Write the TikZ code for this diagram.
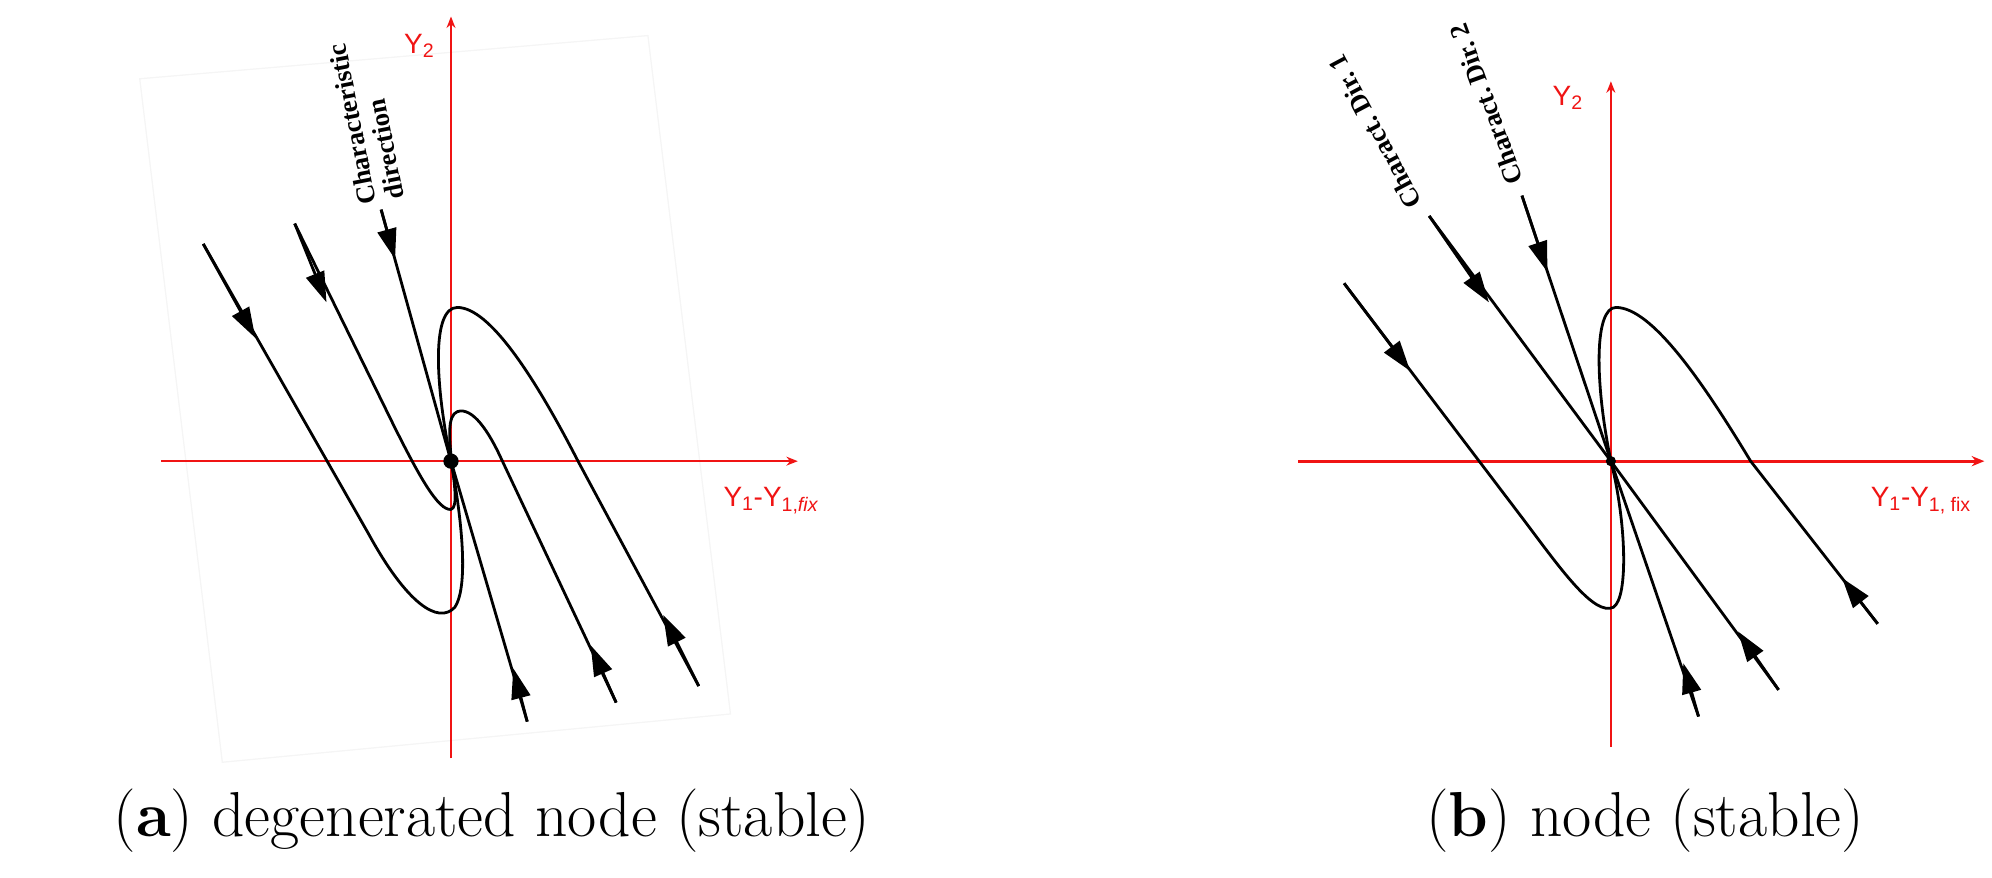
\documentclass[tikz,border=0pt]{standalone}
\usepackage{fontspec}
\newfontfamily\tms{Liberation Serif}
\newfontfamily\sns{Liberation Sans}
\usetikzlibrary{arrows.meta}
\definecolor{axred}{RGB}{240,20,20}
\begin{document}
\begin{tikzpicture}[x=1pt,y=-1pt,
  ax/.style={axred,line width=1.6pt,-{Stealth[length=9pt,width=7pt]}},
  axb/.style={axred,line width=2.6pt,-{Stealth[length=10pt,width=8pt]}},
  tr/.style={black,line width=2.2pt,line join=round},
  tip/.style={black,line width=2.2pt,-{Triangle[length=24pt,width=15pt]}},
  axlab/.style={text=axred,font=\sns\fontsize{22}{24}\selectfont},
  dirlab/.style={font=\tms\bfseries\fontsize{21}{22}\selectfont,align=left},
  captext/.style={font=\fontsize{50}{60}\selectfont}]
\useasboundingbox (0,0) rectangle (1568,691);
% faint frame (a)
\draw[black!4,line width=1pt] (110,62) -- (510,28) -- (575,562) -- (175,600) -- cycle;
% ---------- panel a ----------
\draw[ax] (127,363) -- (628,363);
\draw[ax] (355,597) -- (355,13);
\node[axlab] (ya) at (330,36) {Y\textsubscript{2}};
\node[axlab] (xa) at (607,394) {Y\textsubscript{1}-Y\textsubscript{1,\textit{fix}}};
\node[dirlab,rotate=101] (cda) at (288,96) {Characteristic\\direction};
% trajectories
\draw[tr] (160,192) -- (290,420) .. controls (320,475) and (345,492) .. (358,478) .. controls (370,460) and (362,400) .. (355,363);
\draw[tr] (232,176) -- (310,335) .. controls (330,375) and (345,402) .. (355,401) .. controls (366,398) and (344,330) .. (360,324) .. controls (372,320) and (385,340) .. (395,362) -- (485,553);
\draw[tr] (300,165) -- (355,363) -- (415,568);
\draw[tr] (550,540) -- (455,363) .. controls (420,295) and (385,242) .. (360,242) .. controls (340,242) and (342,300) .. (355,363);
\draw[tip] (160,192) -- (201,266);
\draw[tip] (232,176) -- (257,238);
\draw[tip] (300,165) -- (311,204);
\draw[tip] (415,568) -- (404,526);
\draw[tip] (485,553) -- (465,508);
\draw[tip] (550,540) -- (522,484);
\fill[black] (355,363) circle (6);
% ---------- panel b ----------
\draw[axb] (1022,363) -- (1562,363);
\draw[ax] (1268,588) -- (1268,64);
\node[axlab] (yb) at (1234,77) {Y\textsubscript{2}};
\node[axlab] (xb) at (1512,394) {Y\textsubscript{1}-Y\textsubscript{1, fix}};
\node[dirlab,rotate=118] (d1) at (1082,104) {Charact.\ Dir.\ 1};
\node[dirlab,rotate=110] (d2) at (1170,82) {Charact.\ Dir.\ 2};
\draw[tr] (1125,170) -- (1268,363) -- (1400,543);
\draw[tr] (1198,154) -- (1268,363) -- (1337,564);
\draw[tr] (1058,223) -- (1200,410) .. controls (1230,450) and (1255,485) .. (1270,478) .. controls (1282,470) and (1280,410) .. (1268,363);
\draw[tr] (1478,491) -- (1378,363) .. controls (1340,300) and (1300,242) .. (1272,242) .. controls (1255,242) and (1255,300) .. (1268,363);
\draw[tip] (1058,223) -- (1110,292);
\draw[tip] (1125,170) -- (1172,238);
\draw[tip] (1198,154) -- (1218,214);
\draw[tip] (1400,543) -- (1368,497);
\draw[tip] (1337,564) -- (1325,522);
\draw[tip] (1478,491) -- (1450,455);
\fill[black] (1268,363) circle (4);
% captions
\node[captext] (ca) at (387,646) {(\textbf{a}) degenerated node (stable)};
\node[captext] (cb) at (1295,646) {(\textbf{b}) node (stable)};
\end{tikzpicture}
\end{document}
